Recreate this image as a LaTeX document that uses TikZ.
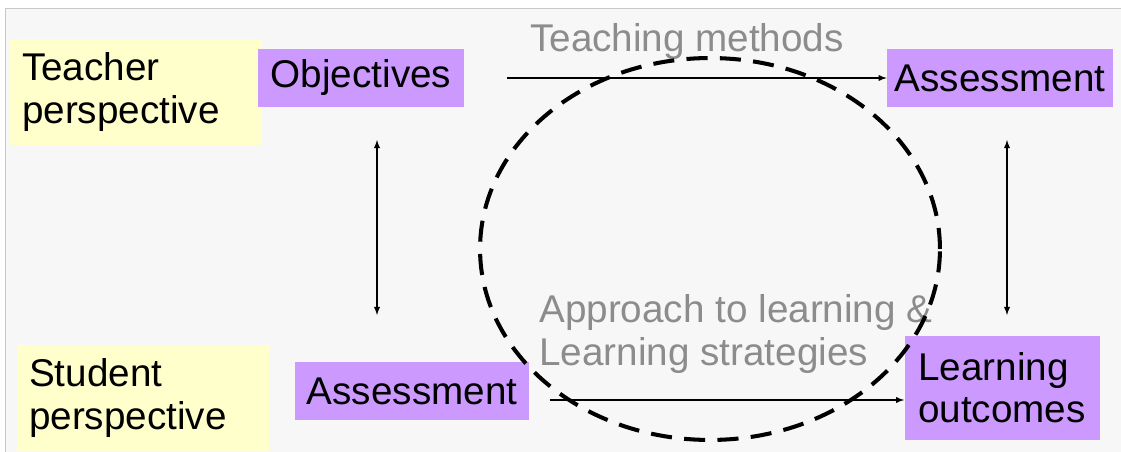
\documentclass[tikz,border=0pt]{standalone}
\usepackage{fontspec}
\setmainfont{Liberation Sans}
\usepackage{xcolor}
\usepackage{tikz}
\usetikzlibrary{positioning}
\definecolor{lila}{RGB}{204,153,255}
\definecolor{gelb}{RGB}{255,255,204}
\definecolor{textgrau}{RGB}{140,140,140}
\definecolor{rahmen}{RGB}{200,200,200}
\tikzset{
  Persp/.style={fill=gelb, align=left, text width=4.56cm, inner xsep=.25cm, minimum height=2.12cm}, % Sichtweisen
  Item/.style={fill=lila, inner sep=0pt, minimum height=1.18cm}, % lila Kaesten
  Link/.style={line width=.6pt,#1}, % Pfeile
  Grau/.style={text=textgrau, inner sep=0pt}, % graue Beschriftung
  Kreis/.style={line width=2.3pt, dash pattern=on 12pt off 7pt} % gestrichelte Ellipse
}
\begin{document}
\begin{tikzpicture}[x=0.02cm, y=-0.02cm,
font=\fontsize{22}{24}\selectfont,
>=latex % Pfeilspitzen
]
\useasboundingbox (0,0) rectangle (1121,452);

%Hintergrund
\fill[white!97!black] (5,8) rectangle (1121,452);
\draw[rahmen] (5,452) -- (5,8) -- (1121,8);

%Sichtweisen
\node[Persp] (teacher) at (136,92) {Teacher\\perspective};
\node[Persp] (student) at (143,398) {Student\\perspective};

%Kaesten
\node[Item, minimum width=4.14cm] (obj) at (361,78) {Objectives};
\node[Item, minimum width=4.52cm] (assT) at (1000,78) {Assessment};
\node[Item, minimum width=4.7cm, minimum height=1.16cm] (assB) at (412,391) {Assessment};
\node[Item, minimum width=3.9cm, minimum height=2.1cm, align=left] (lo) at (1002,388) {Learning\\outcomes};

%Beschriftung
\node[Grau] (tm) at (687,42) {Teaching methods};
\node[Grau, anchor=west, align=left] (ap) at (539,334) {Approach to learning \&\\Learning strategies};

%Pfeile
\draw[Link=->] ([xshift=.84cm]obj.east) -- (assT.west);
\coordinate (b1) at ([xshift=.4cm, yshift=-.18cm]assB.east);
\draw[Link=->] (b1) -- (b1 -| lo.west);

\coordinate (l1) at (377,140);
\coordinate (l2) at (377,315);
\coordinate (r1) at (1007,140);
\coordinate (r2) at (1007,315);
\draw[Link=<->] (l1) -- (l2);
\draw[Link=<->] (r1) -- (r2);

%Ellipse
\draw[Kreis] (710,249) ellipse [x radius=4.6cm, y radius=3.82cm];

\end{tikzpicture}
\end{document}
